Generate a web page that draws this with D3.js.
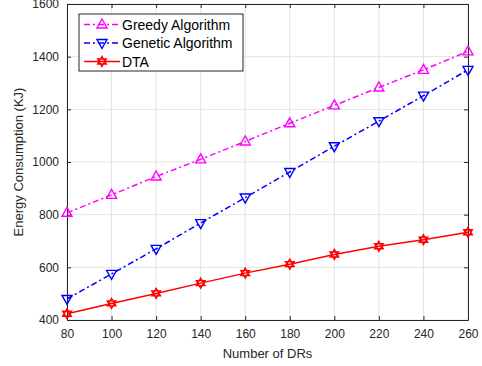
<!DOCTYPE html>
<html>
<head>
<meta charset="utf-8">
<script src="https://cdn.jsdelivr.net/npm/d3@7"></script>
<style>
  body { margin: 0; background: #fff; }
  text { font-family: "Liberation Sans", Arial, sans-serif; }
</style>
</head>
<body>
<div class="container"></div>
<script>
let drs = [80, 100, 120, 140, 160, 180, 200, 220, 240, 260];
let greedy = [807, 875, 945, 1010, 1078, 1147, 1215, 1283, 1350, 1420];
let genetic = [480, 575, 670, 768, 865, 962, 1060, 1155, 1252, 1350];
let dta = [424, 463, 501, 540, 578, 612, 649, 680, 705, 733];
let xTicks = [80, 100, 120, 140, 160, 180, 200, 220, 240, 260];
let yTicks = [400, 600, 800, 1000, 1200, 1400, 1600];

let margin = {top: 4, right: 14, bottom: 46, left: 67},
  width = 482 - margin.left - margin.right,
  height = 366 - margin.top - margin.bottom;

let x = d3.scaleLinear().domain([80, 260]).range([0, width]);
let y = d3.scaleLinear().domain([400, 1600]).range([height, 0]);

let svg = d3.select(".container").append("svg")
    .attr("width", width + margin.left + margin.right)
    .attr("height", height + margin.top + margin.bottom)
  .append("g")
    .attr("transform", "translate(" + margin.left + "," + margin.top + ")");

// grid
svg.append("g").selectAll("line").data(xTicks).enter().append("line")
  .attr("x1", d => x(d)).attr("x2", d => x(d))
  .attr("y1", 0).attr("y2", height)
  .style("stroke", "#e3e3e3").style("stroke-width", 1);
svg.append("g").selectAll("line").data(yTicks).enter().append("line")
  .attr("y1", d => y(d)).attr("y2", d => y(d))
  .attr("x1", 0).attr("x2", width)
  .style("stroke", "#e3e3e3").style("stroke-width", 1);

// axes (ticks inward)
let xAxis = svg.append("g").attr("transform", "translate(0," + height + ")")
  .call(d3.axisBottom(x).tickValues(xTicks).tickFormat(d3.format("d")).tickSizeInner(-4).tickSizeOuter(0).tickPadding(9));
let yAxis = svg.append("g")
  .call(d3.axisLeft(y).tickValues(yTicks).tickFormat(d3.format("d")).tickSizeInner(-4).tickSizeOuter(0).tickPadding(8));
svg.append("g")
  .call(d3.axisTop(x).tickValues(xTicks).tickSizeInner(-4).tickSizeOuter(0).tickFormat(""));
svg.append("g").attr("transform", "translate(" + width + ",0)")
  .call(d3.axisRight(y).tickValues(yTicks).tickSizeInner(-4).tickSizeOuter(0).tickFormat(""));
svg.selectAll(".domain").style("stroke", "#262626");
svg.selectAll(".tick line").style("stroke", "#262626");
svg.selectAll(".tick text").style("font-size", "12px").style("fill", "#262626")
  .style("font-family", "Liberation Sans, Arial, sans-serif");

let series = [
  {name: "Greedy Algorithm", vals: greedy, color: "#ff00ff", dash: "6,3,2,3", sym: "up"},
  {name: "Genetic Algorithm", vals: genetic, color: "#0000ff", dash: "6,3,2,3", sym: "down"},
  {name: "DTA", vals: dta, color: "#ff0000", dash: null, sym: "star"}
];

function marker(g, sym, color) {
  if (sym === "up") {
    g.append("path").attr("d", "M0,-5.5L5,3.5L-5,3.5Z")
      .style("fill", "none").style("stroke", color).style("stroke-width", 1.4);
  } else if (sym === "down") {
    g.append("path").attr("d", "M0,5.5L5,-3.5L-5,-3.5Z")
      .style("fill", "none").style("stroke", color).style("stroke-width", 1.4);
  } else {
    g.append("path").attr("d", "M0,-5L4.33,2.5L-4.33,2.5Z M0,5L4.33,-2.5L-4.33,-2.5Z")
      .style("fill", "none").style("stroke", color).style("stroke-width", 1.4);
  }
}

let line = d3.line().x(d => x(d[0])).y(d => y(d[1]));

series.forEach(s => {
  let pts = drs.map((d, i) => [d, s.vals[i]]);
  svg.append("path").datum(pts)
    .attr("d", line)
    .style("fill", "none").style("stroke", s.color).style("stroke-width", 1.5)
    .style("stroke-dasharray", s.dash);
  pts.forEach(p => {
    let g = svg.append("g").attr("transform", "translate(" + x(p[0]) + "," + y(p[1]) + ")");
    marker(g, s.sym, s.color);
  });
});

// legend
let lg = svg.append("g").attr("transform", "translate(12,10)");
lg.append("rect").attr("width", 164).attr("height", 57)
  .style("fill", "#fff").style("stroke", "#262626").style("stroke-width", 1);
series.forEach((s, i) => {
  let yy = 10.5 + i * 18.5;
  lg.append("line").attr("x1", 5).attr("x2", 41).attr("y1", yy).attr("y2", yy)
    .style("stroke", s.color).style("stroke-width", 1.5).style("stroke-dasharray", s.dash);
  let g = lg.append("g").attr("transform", "translate(23," + yy + ")");
  marker(g, s.sym, s.color);
  lg.append("text").attr("x", 43).attr("y", yy + 5)
    .text(s.name).style("font-size", "14px").style("fill", "#000");
});

svg.append("text")
  .text("Number of DRs")
  .attr("text-anchor", "middle")
  .attr("x", width / 2).attr("y", height + 38)
  .style("font-size", "13px").style("fill", "#262626");
svg.append("text")
  .text("Energy Consumption (KJ)")
  .attr("text-anchor", "middle")
  .attr("transform", "translate(-44," + height / 2 + ") rotate(-90)")
  .style("font-size", "13px").style("fill", "#262626");
</script>
</body>
</html>
